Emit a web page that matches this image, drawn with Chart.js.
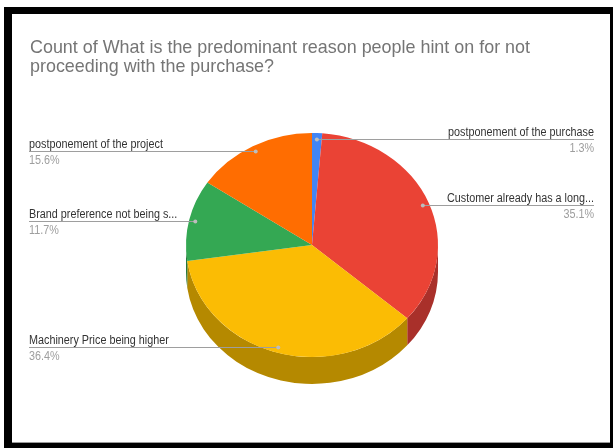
<!DOCTYPE html>
<html>
<head>
<meta charset="utf-8">
<script src="https://cdn.jsdelivr.net/npm/chart.js@4.4.1/dist/chart.umd.min.js"></script>
<style>
  html, body { margin: 0; padding: 0; background: #fff; }
  #wrap { position: relative; width: 613px; height: 448px; }
</style>
</head>
<body>
<div id="wrap"><canvas id="chart"></canvas></div>
<script>
// Survey answers, in drawing order (clockwise from 12 o'clock)
const categories = [
  "postponement of the purchase",
  "Customer already has a long...",
  "Machinery Price being higher",
  "Brand preference not being s...",
  "postponement of the project"
];
const shares = [1.3, 35.1, 36.4, 11.7, 15.6];
const titleLines = [
  "Count of What is the predominant reason people hint on for not",
  "proceeding with the purchase?"
];
const topColors  = ["#4285f4", "#ea4335", "#fbbc04", "#34a853", "#ff6d01"];
const sideColors = ["#2f62b8", "#a9302a", "#b58900", "#25783c", "#b44e00"];

const FONT = '"Liberation Sans", Arial, sans-serif';
const TILT = 0.889;   // vertical squash of the pie face
const DEPTH = 27;     // thickness of the pie rim

// narrow text: draw with a horizontal squeeze
function narrowText(ctx, text, x, y, sx) {
  ctx.save();
  ctx.translate(x, y);
  ctx.scale(sx, 1);
  ctx.fillText(text, 0, 0);
  ctx.restore();
}

const pie3d = {
  id: 'pie3d',
  beforeDraw(chart) {
    const ctx = chart.ctx;
    ctx.save();
    ctx.fillStyle = '#fff';
    ctx.fillRect(0, 0, chart.width, chart.height);
    // outer frame
    ctx.fillStyle = '#000';
    ctx.fillRect(4, 7, 609, 7);
    ctx.fillRect(4, 7, 8, 441);
    ctx.fillRect(610, 7, 3, 441);
    ctx.fillRect(4, 443, 609, 5);
    ctx.fillStyle = '#9a9a9a';
    ctx.fillRect(12, 442, 598, 1);
    // title
    ctx.fillStyle = '#757575';
    ctx.font = '19px ' + FONT;
    ctx.textBaseline = 'alphabetic';
    ctx.textAlign = 'left';
    narrowText(ctx, titleLines[0], 30, 53, 0.943);
    narrowText(ctx, titleLines[1], 30, 72, 0.943);
    ctx.restore();
  },
  beforeDatasetsDraw(chart) {
    const ctx = chart.ctx;
    const meta = chart.getDatasetMeta(0);
    const a0 = meta.data[0];
    const cx = a0.x, cy = a0.y, r = a0.outerRadius, ry = r * TILT;
    // rim: front half of each slice
    ctx.save();
    meta.data.forEach((arc, i) => {
      const s = Math.max(arc.startAngle, 0);
      const e = Math.min(arc.endAngle, Math.PI);
      if (e <= s) return;
      ctx.beginPath();
      ctx.ellipse(cx, cy, r, ry, 0, s, e);
      ctx.ellipse(cx, cy + DEPTH, r, ry, 0, e, s, true);
      ctx.closePath();
      ctx.fillStyle = sideColors[i];
      ctx.fill();
    });
    ctx.restore();
    // squash the face
    ctx.save();
    ctx.translate(cx, cy);
    ctx.scale(1, TILT);
    ctx.translate(-cx, -cy);
  },
  afterDatasetsDraw(chart) {
    const ctx = chart.ctx;
    ctx.restore();
    const meta = chart.getDatasetMeta(0);
    const a0 = meta.data[0];
    const cx = a0.x, cy = a0.y, r = a0.outerRadius, ry = r * TILT;
    ctx.save();
    meta.data.forEach((arc, i) => {
      const mid = (arc.startAngle + arc.endAngle) / 2;
      const px = cx + 0.95 * r * Math.cos(mid);
      const py = cy + 0.95 * ry * Math.sin(mid);
      const ly = Math.round(py) + 0.5;
      const right = Math.cos(mid) > 0;
      ctx.strokeStyle = '#9e9e9e';
      ctx.lineWidth = 1;
      ctx.beginPath();
      if (right) { ctx.moveTo(px, ly); ctx.lineTo(594, ly); }
      else { ctx.moveTo(29, ly); ctx.lineTo(px, ly); }
      ctx.stroke();
      ctx.fillStyle = '#bdbdbd';
      ctx.beginPath();
      ctx.arc(px, ly, 2, 0, Math.PI * 2);
      ctx.fill();
      ctx.font = '12px ' + FONT;
      ctx.textAlign = right ? 'right' : 'left';
      const tx = right ? 594 : 29;
      ctx.fillStyle = '#333';
      narrowText(ctx, categories[i], tx, ly - 4, 0.9);
      ctx.fillStyle = '#9e9e9e';
      narrowText(ctx, shares[i].toFixed(1) + '%', tx, ly + 12, 0.9);
    });
    ctx.restore();
  }
};

new Chart(document.getElementById('chart'), {
  type: 'pie',
  data: {
    labels: categories,
    datasets: [{
      data: shares,
      backgroundColor: topColors,
      borderWidth: 0
    }]
  },
  options: {
    responsive: true,
    maintainAspectRatio: false,
    animation: false,
    layout: { padding: { left: 186, right: 175, top: 119, bottom: 77 } },
    plugins: {
      legend: { display: false },
      title: { display: false },
      tooltip: { enabled: false }
    }
  },
  plugins: [pie3d]
});
</script>
</body>
</html>
